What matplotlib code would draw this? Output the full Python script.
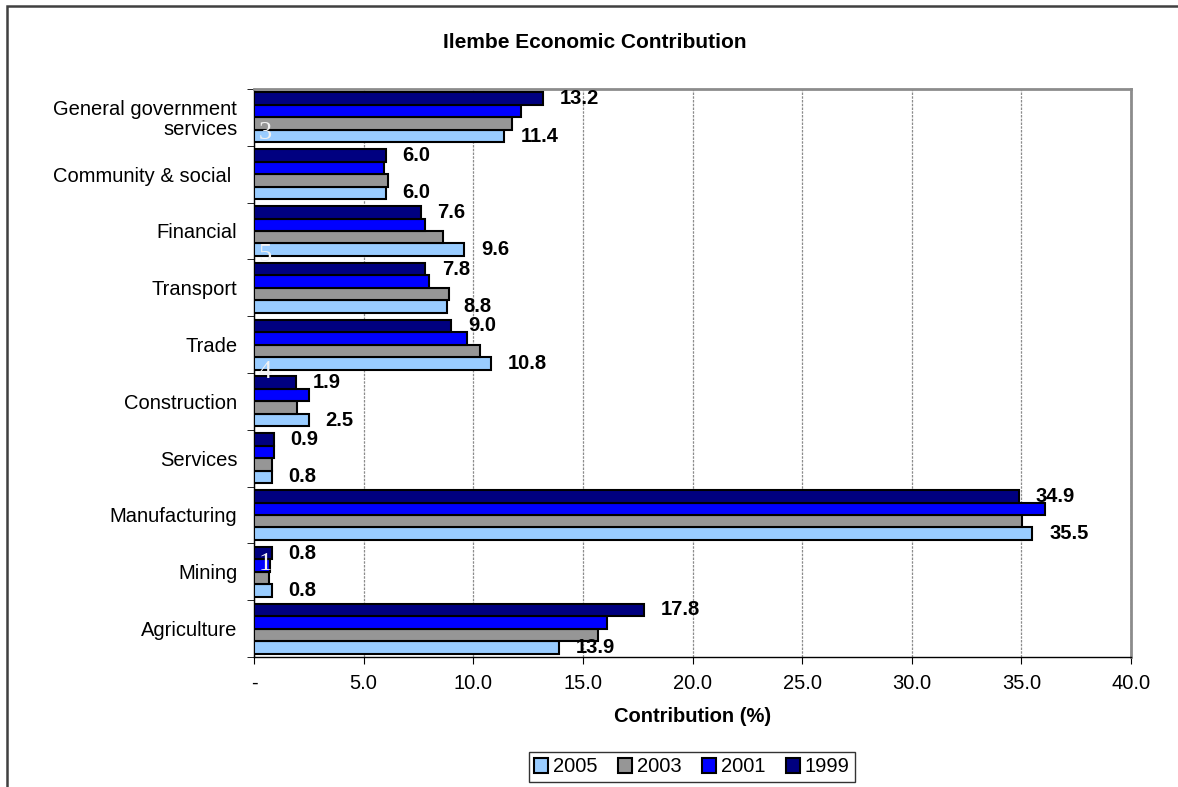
import matplotlib.pyplot as plt
from matplotlib.patches import Rectangle
import numpy as np

categories = ['Agriculture', 'Mining', 'Manufacturing', 'Services', 'Construction',
              'Trade', 'Transport', 'Financial', 'Community & social ',
              'General government\nservices']
years = ['2005', '2003', '2001', '1999']
v2005 = [13.9, 0.8, 35.5, 0.8, 2.5, 10.8, 8.8, 9.6, 6.0, 11.4]
v2003 = [15.7, 0.7, 35.05, 0.8, 1.95, 10.3, 8.9, 8.6, 6.1, 11.75]
v2001 = [16.1, 0.73, 36.1, 0.9, 2.5, 9.7, 8.0, 7.8, 5.95, 12.2]
v1999 = [17.8, 0.8, 34.9, 0.9, 1.9, 9.0, 7.8, 7.6, 6.0, 13.2]
x_ticks = [0, 5, 10, 15, 20, 25, 30, 35, 40]
x_ticklabels = ['-', '5.0', '10.0', '15.0', '20.0', '25.0', '30.0', '35.0', '40.0']

# stray white digits left on the chart (category index, offset)
stray = [('3', 9, -0.27), ('5', 7, -0.43), ('4', 5, -0.48), ('1', 1, 0.13)]

plt.rcParams['font.family'] = ['Liberation Sans', 'DejaVu Sans']
fs = 14.5

fig = plt.figure(figsize=(11.78, 7.87), dpi=100)
ax = fig.add_axes([254/1178, 1-657/787, (1131-254)/1178, (657-89)/787])

y = np.arange(len(categories))
h = 0.22
series = [(v2005, '#99CCFF', -1.5), (v2003, '#969696', -0.5),
          (v2001, '#0000FF', 0.5), (v1999, '#000080', 1.5)]
bars = []
for (vals, col, k), yr in zip(series, years):
    b = ax.barh(y + k*h, vals, height=h, color=col, edgecolor='black',
                linewidth=1.5, label=yr, zorder=3)
    bars.append(b)

# data labels only on 1999 and 2005
for vals, k in [(v1999, 1.5), (v2005, -1.5)]:
    for yi, v in zip(y, vals):
        ax.annotate(f'{v:.1f}', (v, yi + k*h), xytext=(12, 0),
                    textcoords='offset points', va='center', ha='left',
                    fontsize=fs, fontweight='bold', zorder=5)

for txt, ci, off in stray:
    ax.text(0.5, ci + off, txt, color='#f2f2f2', fontsize=19,
            family=['Liberation Serif', 'DejaVu Serif'],
            ha='center', va='center', zorder=6)

ax.set_xlim(0, 40)
ax.set_ylim(-0.5, len(categories) - 0.5)
ax.set_xticks(x_ticks)
ax.set_xticklabels(x_ticklabels, fontsize=fs)
ax.set_yticks(y)
ax.set_yticklabels(categories, fontsize=fs, multialignment='right',
                   linespacing=1.05)
ax.set_yticks(np.arange(len(categories) + 1) - 0.5, minor=True)
ax.tick_params(axis='y', which='major', length=0, pad=12)
ax.tick_params(axis='y', which='minor', length=5, direction='out', color='black')
ax.tick_params(axis='x', length=5, direction='out', pad=7, color='black')

ax.xaxis.grid(True, color='#8c8c8c', linestyle=(0, (2, 1)), linewidth=0.9, zorder=0)
ax.set_axisbelow(True)
for s in ['top', 'right']:
    ax.spines[s].set_color('#8c8c8c')
    ax.spines[s].set_linewidth(2)
for s in ['left', 'bottom']:
    ax.spines[s].set_color('black')
    ax.spines[s].set_linewidth(1)

ax.set_xlabel('Contribution (%)', fontsize=fs, fontweight='bold', labelpad=10)
fig.text(595/1178, 1-42/787, 'Ilembe Economic Contribution', fontsize=15,
         fontweight='bold', ha='center', va='center')

leg = fig.legend(handles=bars, labels=years, loc='center', ncol=4,
                 bbox_to_anchor=(692/1178, 1-767/787), fontsize=fs,
                 frameon=True, fancybox=False, handlelength=0.7,
                 handleheight=0.7, handletextpad=0.25, columnspacing=1.0,
                 borderpad=0.25, borderaxespad=0)
leg.get_frame().set_edgecolor('black')
leg.get_frame().set_linewidth(1)

# outer chart border
fig.patches.append(Rectangle((7/1178, -0.1), 1.2, 1.1 - 6/787,
                             transform=fig.transFigure, fill=False,
                             edgecolor='#404040', linewidth=1.8))

fig.savefig('out.png', dpi=100)
